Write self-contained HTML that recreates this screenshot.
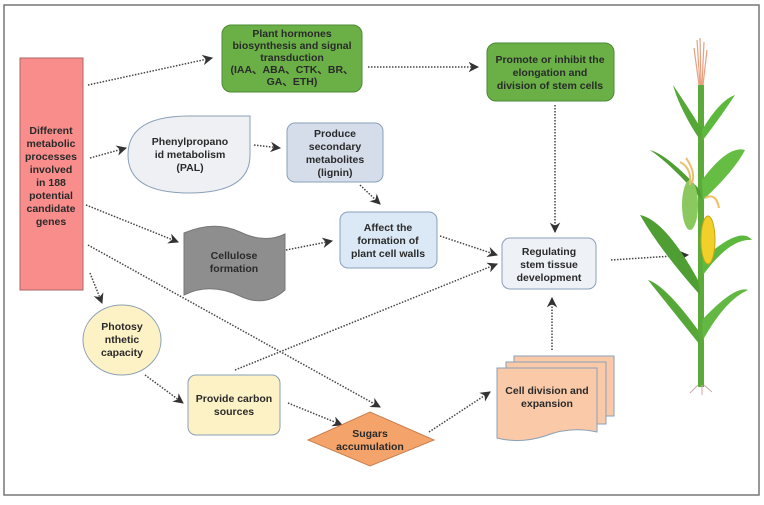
<!DOCTYPE html>
<html><head><meta charset="utf-8"><style>
html,body{margin:0;padding:0;background:#fff}
svg text{font-family:"Liberation Sans",Arial,sans-serif;font-weight:bold;font-size:10.5px;fill:#2a2a2a;text-anchor:middle}
</style></head><body>
<svg width="764" height="500" viewBox="0 0 764 500" xmlns="http://www.w3.org/2000/svg">
<defs>
<marker id="a" viewBox="0 0 10 10" refX="9" refY="5" markerWidth="7" markerHeight="7" orient="auto"><path d="M0,0 L10,5 L0,10 L3,5 z" fill="#333"/></marker>
</defs>
<rect x="4" y="5" width="755" height="490" fill="#fff" stroke="#777" stroke-width="1.5"/>
<g stroke="#444" stroke-width="1.5" stroke-dasharray="1.5,1.5" fill="none" marker-end="url(#a)">
<line x1="88" y1="85" x2="212" y2="58"/>
<line x1="90" y1="158" x2="126" y2="148"/>
<line x1="86" y1="205" x2="178" y2="242"/>
<line x1="88" y1="245" x2="380" y2="407"/>
<line x1="90" y1="273" x2="102" y2="303"/>
<line x1="145" y1="375" x2="183" y2="403"/>
<line x1="288" y1="403" x2="342" y2="425"/>
<line x1="235" y1="370" x2="497" y2="264"/>
<line x1="254" y1="145" x2="280" y2="148"/>
<line x1="360" y1="185" x2="380" y2="204"/>
<line x1="286" y1="250" x2="332" y2="241"/>
<line x1="440" y1="236" x2="497" y2="255"/>
<line x1="368" y1="67" x2="478" y2="67"/>
<line x1="555" y1="105" x2="555" y2="232"/>
<line x1="552" y1="350" x2="552" y2="298"/>
<line x1="429" y1="432" x2="490" y2="392"/>
<line x1="611" y1="260" x2="688" y2="255"/>
</g>
<rect x="20" y="58" width="63" height="232" fill="#f98d8c" stroke="#a66" stroke-width="1"/>
<text x="51" y="134">Different</text><text x="51" y="147">metabolic</text><text x="51" y="160">processes</text><text x="51" y="173">involved</text><text x="51" y="186">in 188</text><text x="51" y="199">potential</text><text x="51" y="212">candidate</text><text x="51" y="225">genes</text>
<rect x="222" y="25" width="140" height="67" rx="9" fill="#6ab046" stroke="#4e8a34"/>
<text x="292" y="37">Plant hormones</text><text x="292" y="49">biosynthesis and signal</text><text x="292" y="61">transduction</text><text x="292" y="73">(IAA、ABA、CTK、BR、</text><text x="292" y="85">GA、ETH)</text>
<rect x="487" y="43" width="127" height="58" rx="9" fill="#6ab046" stroke="#4e8a34"/>
<text x="550" y="63">Promote or inhibit the</text><text x="550" y="76">elongation and</text><text x="550" y="89">division of stem cells</text>
<path d="M250,116 L250,155 Q250,193 189,193 Q128,193 128,155 Q128,116 189,116 Z" fill="#eef0f4" stroke="#8aa0b8"/>
<text x="190" y="145">Phenylpropano</text><text x="190" y="158">id metabolism</text><text x="190" y="171">(PAL)</text>
<rect x="287" y="123" width="96" height="59" rx="8" fill="#d5dcea" stroke="#8aa0b8"/>
<text x="335" y="137">Produce</text><text x="335" y="150">secondary</text><text x="335" y="163">metabolites</text><text x="335" y="176">(lignin)</text>
<path d="M184,233 Q215,220 240,232 Q265,244 285,234 L285,290 Q265,308 240,296 Q210,282 184,295 Z" fill="#8e8e8e" stroke="#777"/>
<text x="234" y="259">Cellulose</text><text x="234" y="272">formation</text>
<rect x="340" y="212" width="97" height="56" rx="8" fill="#dbe9f6" stroke="#8aa0b8"/>
<text x="388" y="231">Affect the</text><text x="388" y="244">formation of</text><text x="388" y="257">plant cell walls</text>
<rect x="502" y="238" width="94" height="51" rx="8" fill="#eef1f6" stroke="#8aa0b8"/>
<text x="549" y="255">Regulating</text><text x="549" y="268">stem tissue</text><text x="549" y="281">development</text>
<ellipse cx="122" cy="340" rx="39" ry="35" fill="#fdf1c6" stroke="#8aa0b8"/>
<text x="122" y="330">Photosy</text><text x="122" y="343">nthetic</text><text x="122" y="356">capacity</text>
<rect x="188" y="375" width="92" height="60" rx="8" fill="#fdf1c6" stroke="#8aa0b8"/>
<text x="234" y="402">Provide carbon</text><text x="234" y="415">sources</text>
<path d="M308,440 L370,412 L434,440 L370,466 Z" fill="#f4a46a" stroke="#c88050"/>
<text x="370" y="437">Sugars</text><text x="370" y="450">accumulation</text>
<rect x="514" y="356" width="100" height="60" fill="#f9c9a8" stroke="#8aa0b8"/>
<rect x="506" y="362" width="100" height="62" fill="#f9c9a8" stroke="#8aa0b8"/>
<path d="M497,368 L597,368 L597,432 Q570,426 545,436 Q520,444 497,438 Z" fill="#f9c9a8" stroke="#8aa0b8"/>
<text x="547" y="394">Cell division and</text><text x="547" y="407">expansion</text>
<!-- corn -->
<g>
<path d="M697,40 L700,85 M700,38 L701,85 M704,42 L702,85 M694,48 L699,85 M707,50 L703,85" stroke="#e8a080" stroke-width="1.2" fill="none"/>
<rect x="698" y="85" width="6" height="302" fill="#5cab3a"/>
<path d="M698,385 L690,393 M702,385 L702,395 M704,385 L712,392" stroke="#caa" stroke-width="1"/>
<path d="M700,140 Q680,110 673,85 Q690,110 702,130 Z" fill="#55a838"/>
<path d="M702,130 Q720,100 735,95 Q722,115 703,140 Z" fill="#5db83e"/>
<path d="M700,190 Q668,155 650,150 Q672,165 702,200 Z" fill="#4f9e33"/>
<path d="M702,180 Q728,145 745,150 Q735,170 703,200 Z" fill="#66bd44"/>
<path d="M698,280 Q665,220 640,215 Q660,250 700,295 Z" fill="#4f9e33"/>
<path d="M702,260 Q740,225 752,240 Q730,238 703,275 Z" fill="#5db83e"/>
<path d="M698,330 Q665,285 648,280 Q668,305 700,345 Z" fill="#55a838"/>
<path d="M702,320 Q735,285 748,290 Q725,300 703,340 Z" fill="#62b842"/>
<ellipse cx="690" cy="205" rx="8" ry="25" fill="#8cc860"/>
<path d="M680,162 Q692,168 690,185 M686,158 Q696,172 692,183" stroke="#e8c070" stroke-width="2" fill="none"/>
<ellipse cx="708" cy="240" rx="7" ry="24" fill="#f3cf2a" stroke="#c9a516"/>
<path d="M705,198 Q716,192 719,208" stroke="#f0c060" stroke-width="2" fill="none"/>
</g>
</svg>
</body></html>
